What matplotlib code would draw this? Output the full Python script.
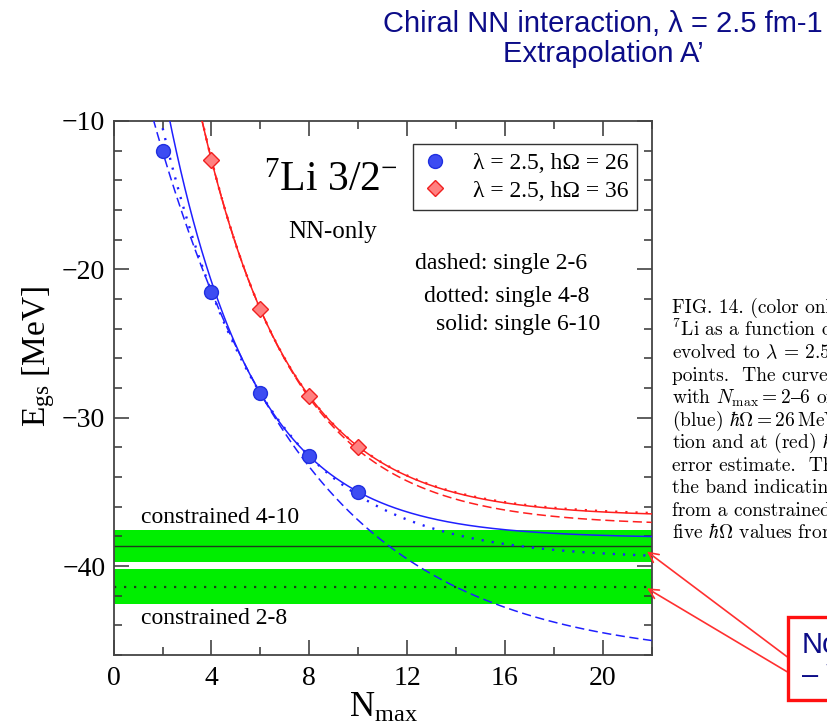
import numpy as np
import matplotlib
matplotlib.use("Agg")
import matplotlib.pyplot as plt
from matplotlib.ticker import MultipleLocator
from matplotlib.patches import Rectangle

# 7Li 3/2- ground-state energies [MeV] vs Nmax, lambda = 2.5 fm^-1
nmax = [2, 4, 6, 8, 10]
egs_hw26 = [-12.05, -21.5, -28.35, -32.6, -35.0]
# hw = 36: the Nmax = 2 value sits above the plotted range
egs_hw36 = [4.5, -12.6, -22.7, -28.55, -31.95]

# Nmax windows of the single-hw exponential fits
fit_windows = [(2, 6), (4, 8), (6, 10)]

# constrained fits (five hw values): label, centre, half width
band_labels = ["constrained 4-10", "constrained 2-8"]
band_centres = [-38.65, -41.4]
band_halfwidths = [1.05, 1.18]

caption_lines = [
	"FIG. 14. (color online)",
	r"$^7$Li as a function of",
	r"evolved to $\lambda\, =\, 2.5$",
	"points.  The curves",
	"with $N_{\\rm max} = 2\u20136$ or",
	r"(blue) $\hbar\Omega = 26\,$MeV",
	r"tion and at (red) $\hbar\Omega$",
	"error estimate.  The",
	"the band indicating",
	"from a constrained",
	r"five $\hbar\Omega$ values from",
]

NAVY = "#0c0c88"
BLUE = "#1f1fff"
RED = "#ff1f1f"
GREEN = "#00ee00"

plt.rcParams["font.family"] = ["Liberation Serif", "DejaVu Serif"]
plt.rcParams["mathtext.fontset"] = "custom"
plt.rcParams["mathtext.rm"] = "Liberation Serif"
plt.rcParams["mathtext.it"] = "Liberation Serif:italic"


def exp_fit(n_points, e_points, window, n_grid):
	"""
	Three-point exponential fit E(N) = E_inf + a * r**(N/2) through a window
	"""
	n_lo, n_hi = window
	e1, e2, e3 = (e_points[n_points.index(n)] for n in (n_lo, n_lo + 2, n_hi))
	d1 = e2 - e1
	d2 = e3 - e2
	r = d2 / d1
	e_inf = e3 + d2 * r / (1 - r)
	return e_inf + (e3 - e_inf) * r ** ((n_grid - n_hi) / 2)


fig = plt.figure(figsize=(8.27, 7.27), dpi=100)
ax = fig.add_axes([0.1374, 0.0990, 0.6506, 0.7346])

ax.set_xlim(0, 22)
ax.set_ylim(-46, -10)

# constrained bands
for centre, half in zip(band_centres, band_halfwidths):
	ax.axhspan(centre - half, centre + half, color=GREEN, lw=0, zorder=1)
ax.axhline(band_centres[0], color="#1e3a1e", lw=1.0, zorder=2)
ax.axhline(band_centres[1], color="#1e3a1e", lw=1.6, ls=(0, (1, 3.5)), zorder=2)

ax.text(1.12, -36.75, band_labels[0], fontsize=17, va="center", ha="left")
ax.text(1.12, -43.55, band_labels[1], fontsize=17, va="center", ha="left")

# single-hw fit curves
n_grid = np.linspace(0.5, 22, 500)
line_styles = [(0, (6, 3)), (0, (0.9, 3.4)), "-"]
line_widths = [1.1, 1.7, 1.1]

for window, ls, lw in zip(fit_windows, line_styles, line_widths):
	ax.plot(n_grid, exp_fit(nmax, egs_hw26, window, n_grid),
		color=BLUE, ls=ls, lw=lw, zorder=3)
	ax.plot(n_grid, exp_fit(nmax, egs_hw36, window, n_grid),
		color=RED, ls=ls, lw=lw, zorder=3)

# calculated points
ax.plot(nmax, egs_hw26, ls="none", marker="o", ms=10,
	mfc="#3d4cf2", mec="#2030e0", mew=1.0, zorder=4,
	label="λ = 2.5, hΩ = 26")
ax.plot(nmax, egs_hw36, ls="none", marker="D", ms=8,
	mfc="#ff8080", mec="#f02020", mew=1.0, zorder=4,
	label="λ = 2.5, hΩ = 36")

legend = ax.legend(
	loc="upper left",
	bbox_to_anchor=(0.556, 0.956),
	borderaxespad=0,
	fontsize=17,
	frameon=True,
	fancybox=False,
	handlelength=1.2,
	handletextpad=1.0,
	borderpad=0.35,
	labelspacing=0.25
)
legend.get_frame().set_edgecolor("black")
legend.get_frame().set_linewidth(1.0)

ax.text(8.9, -14.0, r"$^{7}$Li 3/2$^{-}$", fontsize=30, ha="center", va="center")
ax.text(8.95, -17.5, "NN-only", fontsize=18, ha="center", va="center")
ax.text(12.32, -19.6, "dashed: single 2-6", fontsize=17, ha="left", va="center")
ax.text(12.71, -21.8, "dotted: single 4-8", fontsize=17, ha="left", va="center")
ax.text(13.2, -23.7, "solid: single 6-10", fontsize=17, ha="left", va="center")

ax.xaxis.set_major_locator(MultipleLocator(4))
ax.xaxis.set_minor_locator(MultipleLocator(2))
ax.yaxis.set_major_locator(MultipleLocator(10))
ax.yaxis.set_minor_locator(MultipleLocator(2))
ax.tick_params(which="both", direction="in", top=True, right=True,
	labelsize=20, color="#333333")
ax.tick_params(which="major", length=11, width=1.1)
ax.tick_params(which="minor", length=6, width=1.1)
ax.tick_params(axis="x", pad=8)
ax.tick_params(axis="y", pad=6)
ax.set_yticks([-10, -20, -30, -40])
ax.set_yticklabels(["−10", "−20", "−30", "−40"])
for spine in ax.spines.values():
	spine.set_color("#444444")
	spine.set_linewidth(1.3)

fig.text(383 / 827, 1 - 708 / 727, r"N$_{\rm max}$", fontsize=25,
	ha="center", va="center")
fig.text(39 / 827, 1 - 357 / 727, r"E$_{\rm gs}$ [MeV]", fontsize=24,
	ha="center", va="center", rotation=90)

# slide title
title_font = dict(fontsize=21, color=NAVY, family="Liberation Sans", ha="center")
fig.text(603 / 827, 1 - 31.7 / 727, "Chiral NN interaction, λ = 2.5 fm-1",
	va="baseline", **title_font)
fig.text(603 / 827, 1 - 61.7 / 727, "Extrapolation A’",
	va="baseline", **title_font)

# paper caption beside the plot
for index, line in enumerate(caption_lines):
	fig.text(671.7 / 827, 1 - (313.3 + 22.5 * index) / 727, line,
		fontsize=14, family=["cmr10", "DejaVu Serif"],
		math_fontfamily="cm", va="baseline", ha="left")

# callout box with arrows pointing at the bands
fig.patches.append(Rectangle(
	(788, 727 - 700), 60, 83, transform=None,
	facecolor="white", edgecolor="#ff1010", linewidth=2.4, zorder=5
))
fig.text(801.5 / 827, 1 - 653 / 727, "Note", fontsize=21, color=NAVY,
	family="Liberation Sans", ha="left", va="baseline", zorder=6)
fig.text(801.5 / 827, 1 - 684 / 727, "– W", fontsize=21, color=NAVY,
	family="Liberation Sans", ha="left", va="baseline", zorder=6)

for start, tip in [((787, 656.7), (647, 551.5)), ((787, 671.7), (647, 588.3))]:
	ax.annotate(
		"",
		xy=(tip[0], 727 - tip[1]), xycoords="figure pixels",
		xytext=(start[0], 727 - start[1]), textcoords="figure pixels",
		arrowprops=dict(arrowstyle="->,head_length=0.7,head_width=0.35",
			color="#ff3030", lw=1.2, shrinkA=0, shrinkB=0),
		annotation_clip=False, zorder=6
	)

fig.savefig("out.png", dpi=100)
